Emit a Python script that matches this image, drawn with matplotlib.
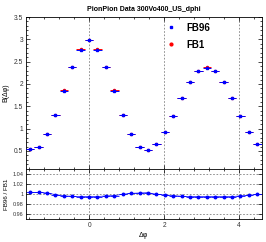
import numpy as np
import matplotlib
matplotlib.use("Agg")
import matplotlib.pyplot as plt
from matplotlib.ticker import MultipleLocator, FuncFormatter
from matplotlib.lines import Line2D

plt.rcParams['font.family'] = ['Liberation Sans', 'DejaVu Sans']

nbins = 28
x_lo = -np.pi / 2 - np.pi / 28
x_hi = 3 * np.pi / 2 - np.pi / 28
centers = -np.pi / 2 + np.arange(nbins) * (2 * np.pi / nbins)
half_w = np.pi / nbins

fb96 = [0.55, 0.60, 0.88, 1.31, 1.85, 2.37, 2.77, 2.975, 2.77, 2.37, 1.85, 1.31,
        0.88, 0.60, 0.53, 0.66, 0.92, 1.29, 1.68, 2.04, 2.28, 2.36, 2.28, 2.04,
        1.68, 1.29, 0.92, 0.66]
ratio = [1.0039, 1.0039, 1.0026, 0.9994, 0.9968, 0.9961, 0.9955, 0.9955, 0.9955,
         0.9968, 0.9974, 1.0000, 1.0019, 1.0026, 1.0032, 1.0000, 0.9987, 0.9974,
         0.9961, 0.9955, 0.9955, 0.9955, 0.9955, 0.9955, 0.9955, 0.9968, 0.9980,
         0.9997]
fb96 = np.array(fb96)
ratio = np.array(ratio)
fb1 = fb96 / ratio

W, H = 266, 242
fig = plt.figure(figsize=(W / 100, H / 100), dpi=100)
L, R = 26 / W, 261.5 / W
ax = fig.add_axes([L, 1 - 169.3 / H, R - L, (169.3 - 17) / H])
axr = fig.add_axes([L, 1 - 219.3 / H, R - L, 50 / H])

fs = 4.8
gfmt = FuncFormatter(lambda v, p: f'{v:g}')
ax.errorbar(centers, fb1, xerr=half_w, yerr=0.01, fmt='o', color='red', ms=1.5,
            elinewidth=0.7, capsize=0, zorder=2)
ax.errorbar(centers, fb96, xerr=half_w, yerr=0.01, fmt='s', color='blue', ms=1.9,
            elinewidth=0.7, capsize=0, zorder=3)
ax.set_xlim(x_lo, x_hi)
ax.set_ylim(0.09, 3.5)
ax.yaxis.set_major_locator(MultipleLocator(0.5))
ax.yaxis.set_minor_locator(MultipleLocator(0.1))
ax.yaxis.set_major_formatter(gfmt)
ax.xaxis.set_major_locator(MultipleLocator(2))
ax.xaxis.set_minor_locator(MultipleLocator(0.4))
ax.grid(axis='x', which='major', linestyle=(0, (2, 2)), color='gray', linewidth=0.6)
ax.tick_params(labelsize=fs, length=3, width=0.5, direction='in', pad=2,
               labelbottom=False, top=True, right=True, labelcolor='#333333')
ax.tick_params(which='minor', length=1.5, width=0.5, direction='in', top=True, right=True)
ax.set_ylabel('B(Δφ)', fontsize=5, labelpad=3)
ax.set_title('PionPion Data 300Vo400_US_dphi', fontsize=5, fontweight='bold', pad=4)
hb = Line2D([], [], marker='s', color='blue', ls='none', ms=2)
hr = Line2D([], [], marker='o', color='red', ls='none', ms=2)
ax.legend([hb, hr], ['FB96', 'FB1'], loc='upper left', frameon=False,
          prop={'weight': 'bold', 'size': 7}, bbox_to_anchor=(0.56, 1.02),
          handlelength=1.0, handletextpad=1.0, labelspacing=0.7)
for s in ax.spines.values():
    s.set_linewidth(0.6)

axr.errorbar(centers, ratio, xerr=half_w, fmt='o-', color='blue', ms=1.8,
             elinewidth=0.6, linewidth=0.5, capsize=0)
axr.set_xlim(x_lo, x_hi)
axr.set_ylim(0.95, 1.05)
axr.set_yticks([0.96, 0.98, 1.0, 1.02, 1.04])
axr.yaxis.set_major_formatter(gfmt)
axr.xaxis.set_major_locator(MultipleLocator(2))
axr.xaxis.set_minor_locator(MultipleLocator(0.4))
axr.grid(which='major', linestyle=(0, (2, 2)), color='gray', linewidth=0.6)
axr.tick_params(labelsize=4, length=3, width=0.5, direction='in', pad=2,
                top=True, right=True, labelcolor='#333333')
axr.tick_params(axis='x', labelsize=fs)
axr.tick_params(which='minor', length=1.5, width=0.5, direction='in', top=True)
axr.set_ylabel('FB96 / FB1', fontsize=4.5, labelpad=2)
axr.set_xlabel('Δφ', fontsize=5, labelpad=2)
for s in axr.spines.values():
    s.set_linewidth(0.6)

fig.savefig('out.png', dpi=100)
